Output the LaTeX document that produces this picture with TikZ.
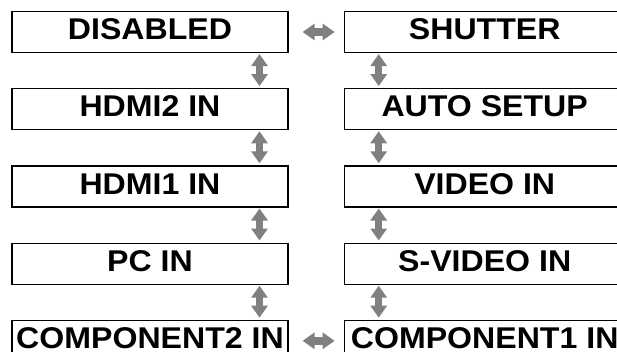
\documentclass[tikz,border=0pt]{standalone}
\usepackage{fontspec}
\setmainfont{Liberation Sans}[FakeStretch=1.07]
\usepackage{tikz}
\usetikzlibrary{positioning,arrows.meta}
\definecolor{modegray}{RGB}{128,128,128}
\tikzset{
  modebox/.style={rectangle,draw=black,line width=1.2pt,align=center,minimum width=276pt,minimum height=41pt,inner sep=0pt,text height=21.5pt,text depth=6pt,fill=white,font=\fontsize{30}{36}\selectfont\bfseries},
  widebox/.style={modebox,minimum width=281pt},
  swap/.style={draw=modegray,line width=7.5pt,{Triangle[width=16pt,length=12pt]}-{Triangle[width=16pt,length=12pt]}}
}
\begin{document}
\begin{tikzpicture}[node distance=35pt and 55pt]
  \useasboundingbox (0,0) rectangle (617pt,-351pt);
  \clip (0,0) rectangle (617pt,-351pt);
  \node[modebox] at (150pt,-32pt) (disabled) {DISABLED};
  \node[modebox,below=of disabled] (hdmitwo) {HDMI2 IN};
  \node[modebox,below=of hdmitwo] (hdmione) {HDMI1 IN};
  \node[modebox,below=of hdmione] (pcin) {PC IN};
  \node[modebox,below=of pcin] (comptwo) {COMPONENT2 IN};
  \node[widebox,right=of disabled.east,anchor=west] (shutter) {SHUTTER};
  \node[widebox,below=of shutter] (autosetup) {AUTO SETUP};
  \node[widebox,below=of autosetup] (videoin) {VIDEO IN};
  \node[widebox,below=of videoin] (svideoin) {S-VIDEO IN};
  \node[widebox,below=of svideoin] (compone) {COMPONENT1 IN};
  \draw[swap,shorten <=14pt,shorten >=9pt] (disabled.east) -- (shutter.west);
  \draw[swap,shorten <=1pt,shorten >=2pt] ([xshift=109.5pt]disabled.south) -- ([xshift=109.5pt]hdmitwo.north);
  \draw[swap,shorten <=1pt,shorten >=2pt] ([xshift=109.5pt]hdmitwo.south) -- ([xshift=109.5pt]hdmione.north);
  \draw[swap,shorten <=1pt,shorten >=2pt] ([xshift=109.5pt]hdmione.south) -- ([xshift=109.5pt]pcin.north);
  \draw[swap,shorten <=1pt,shorten >=2pt] ([xshift=109.5pt]pcin.south) -- ([xshift=109.5pt]comptwo.north);
  \draw[swap,shorten <=1pt,shorten >=2pt] ([xshift=-106pt]shutter.south) -- ([xshift=-106pt]autosetup.north);
  \draw[swap,shorten <=1pt,shorten >=2pt] ([xshift=-106pt]autosetup.south) -- ([xshift=-106pt]videoin.north);
  \draw[swap,shorten <=1pt,shorten >=2pt] ([xshift=-106pt]videoin.south) -- ([xshift=-106pt]svideoin.north);
  \draw[swap,shorten <=1pt,shorten >=2pt] ([xshift=-106pt]svideoin.south) -- ([xshift=-106pt]compone.north);
  \draw[swap,shorten <=9pt,shorten >=14pt] (compone.west) -- (comptwo.east);
\end{tikzpicture}
\end{document}
